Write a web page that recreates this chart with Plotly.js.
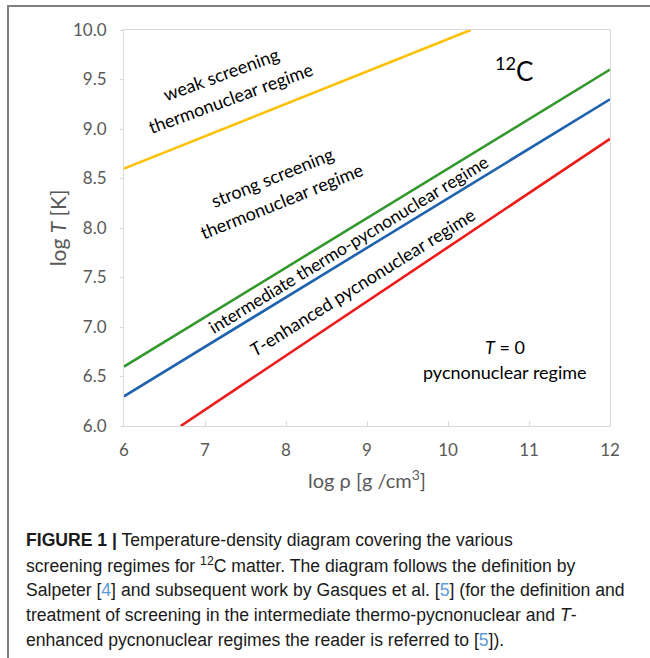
<!DOCTYPE html>
<html>
<head>
<meta charset="utf-8">
<script src="https://cdn.plot.ly/plotly-3.0.1.min.js"></script>
<style>
  html, body { margin: 0; padding: 0; background: #fff; }
  #wrap { position: relative; width: 650px; height: 658px; overflow: hidden; }
  #chart { position: absolute; left: 0; top: 0; width: 650px; height: 658px; }
  #frame { position: absolute; left: 7px; top: 5px; width: 660px; height: 670px;
           border-left: 2px solid #7f7f7f; border-top: 2px solid #7f7f7f; pointer-events: none; }
</style>
</head>
<body>
<div id="wrap">
  <div id="chart"></div>
  <div id="frame"></div>
</div>
<script>
// ---- data (log rho [g/cm^3], log T [K]) ----
const rhoWeak   = [6.0, 10.28];
const TWeak     = [8.6, 10.0];
const rhoStrong = [6.0, 12.0];
const TStrong   = [6.6, 9.6];
const rhoInter  = [6.0, 12.0];
const TInter    = [6.3, 9.3];
const rhoTenh   = [6.7, 12.0];
const TTenh     = [6.0, 8.9];

const xTickVals = [6, 7, 8, 9, 10, 11, 12];
const yTickVals = [6.0, 6.5, 7.0, 7.5, 8.0, 8.5, 9.0, 9.5, 10.0];

const captionLines = [
  "<b>FIGURE 1 |</b> Temperature-density diagram covering the various",
  "screening regimes for <sup>12</sup>C matter. The diagram follows the definition by",
  "Salpeter [<span style='color:#5b9bd5'>4</span>] and subsequent work by Gasques et al. [<span style='color:#5b9bd5'>5</span>] (for the definition and",
  "treatment of screening in the intermediate thermo-pycnonuclear and <i>T</i>-",
  "enhanced pycnonuclear regimes the reader is referred to [<span style='color:#5b9bd5'>5</span>])."
];

const FONT = "Lato, 'Open Sans', sans-serif";
const lineW = 2.6;
const traces = [
  {x: rhoWeak,   y: TWeak,   mode: 'lines', line: {color: '#FFC000', width: lineW}, name: 'weak/strong'},
  {x: rhoStrong, y: TStrong, mode: 'lines', line: {color: '#35982F', width: lineW}, name: 'strong/intermediate'},
  {x: rhoInter,  y: TInter,  mode: 'lines', line: {color: '#1F62AD', width: lineW}, name: 'intermediate/T-enhanced'},
  {x: rhoTenh,   y: TTenh,   mode: 'lines', line: {color: '#EE1B1B', width: lineW}, name: 'T-enhanced/T=0'}
];

const txt = (text, x, y, angle, size) => ({
  text: text, x: x, y: y, xref: 'x', yref: 'y', showarrow: false,
  textangle: angle, xanchor: 'center', yanchor: 'middle',
  font: {family: FONT, size: size, color: '#000'}
});

const annotations = [
  txt('weak screening', 7.20, 9.56, -20, 18),
  txt('thermonuclear regime', 7.31, 9.31, -20, 18),
  txt('strong screening', 7.83, 8.52, -22, 18),
  txt('thermonuclear regime', 7.94, 8.27, -22, 18),
  txt('intermediate thermo-pycnonuclear regime', 8.77, 7.83, -31.4, 17.5),
  txt('<i>T</i>-enhanced pycnonuclear regime', 8.94, 7.45, -32, 18),
  txt('<i>T</i> = 0', 10.70, 6.80, 0, 18),
  txt('pycnonuclear regime', 10.70, 6.55, 0, 18),
  txt('<sup>12</sup>C', 10.81, 9.60, 0, 26)
];

// caption lines (paper coords: x=0 at plot left (124px), plot width 486px; y=0 at 426px, height 396px)
const capTop = 540, capStep = 25;
captionLines.forEach((t, i) => {
  annotations.push({
    text: t, xref: 'paper', yref: 'paper',
    x: (24 - 124) / 486, y: (426 - (capTop + i * capStep)) / 396,
    xanchor: 'left', yanchor: 'middle', showarrow: false, align: 'left',
    font: {family: "'Liberation Sans', Arial, sans-serif", size: 17.6, color: '#1a1a1a'}
  });
});

const axisCommon = {
  showgrid: false, zeroline: false,
  showline: true, linecolor: '#d9d9d9', linewidth: 1, mirror: true,
  tickfont: {family: FONT, size: 17, color: '#595959'},
  tickcolor: '#d9d9d9'
};

const layout = {
  width: 650, height: 658,
  margin: {l: 124, r: 40, t: 30, b: 232},
  paper_bgcolor: '#fff', plot_bgcolor: '#fff',
  showlegend: false,
  xaxis: Object.assign({}, axisCommon, {
    range: [6, 12], tickvals: xTickVals, ticktext: xTickVals.map(String),
    ticks: 'inside', ticklen: 5, ticklabelstandoff: 9,
    title: {text: 'log ρ [g /cm<sup>3</sup>]', font: {family: FONT, size: 20, color: '#595959'}, standoff: 14}
  }),
  yaxis: Object.assign({}, axisCommon, {
    range: [6, 10], tickvals: yTickVals, ticktext: yTickVals.map(v => v.toFixed(1)),
    ticks: 'outside', ticklen: 3, ticklabelstandoff: 10,
    title: {text: 'log <i>T</i> [K]', font: {family: FONT, size: 21, color: '#595959'}, standoff: 0}
  }),
  annotations: annotations
};

Plotly.newPlot('chart', traces, layout, {displayModeBar: false, staticPlot: true});
</script>
</body>
</html>
